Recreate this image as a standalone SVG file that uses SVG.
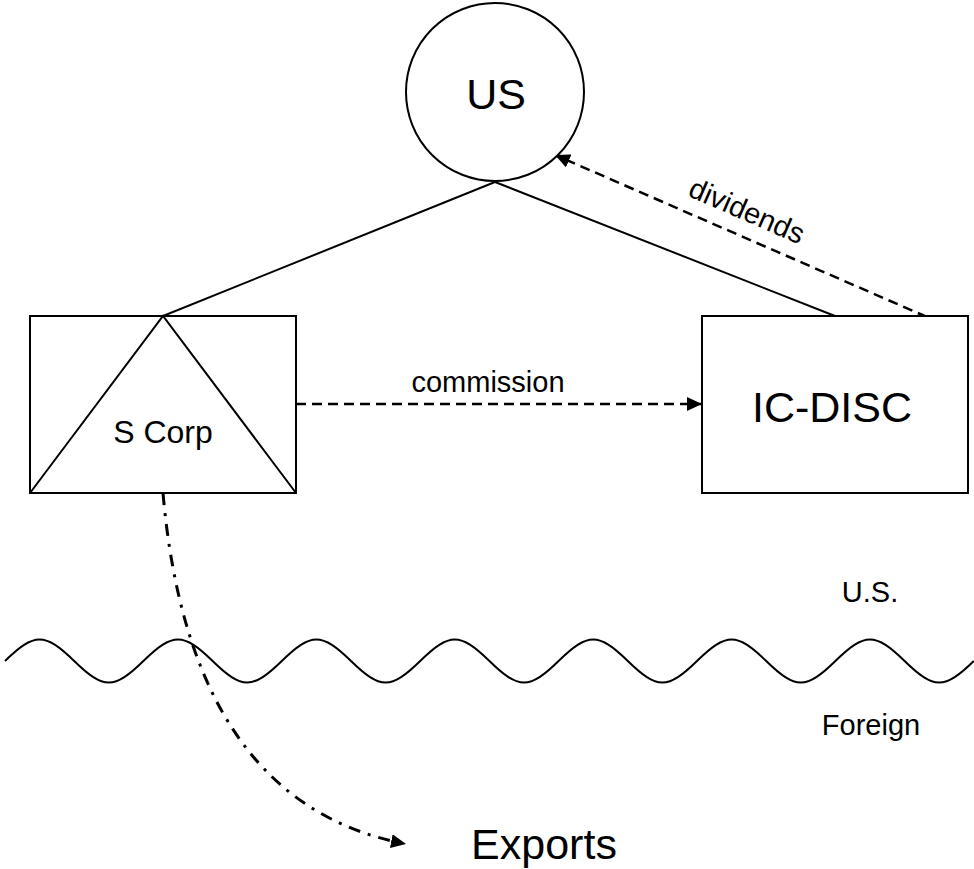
<svg xmlns="http://www.w3.org/2000/svg" width="974" height="869" viewBox="0 0 974 869">
  <style>
    .shape { fill: #ffffff; stroke: #000000; stroke-width: 2; }
    .line { fill: none; stroke: #000000; stroke-width: 2; }
    .dashed { fill: none; stroke: #000000; stroke-width: 2.5; stroke-dasharray: 10 6; }
    .dashdot { fill: none; stroke: #000000; stroke-width: 3; stroke-dasharray: 12 8 3 8; }
    .label { font-family: "Liberation Sans", Arial, sans-serif; fill: #000000; text-anchor: middle; }
    .big { font-size: 43px; }
    .mid { font-size: 32px; }
    .small { font-size: 29px; }
  </style>
  <defs>
    <marker id="arrow" markerUnits="userSpaceOnUse" markerWidth="16" markerHeight="14" refX="15" refY="7" orient="auto">
      <path d="M0,0 L15,7 L0,14 Z" fill="#000000"/>
    </marker>
  </defs>

  <!-- boundary between the U.S. and foreign territory -->
  <path id="border" class="line" d="M5,661 c29.4,-28.67 39.8,-28.67 69.2,0 s39.8,28.67 69.2,0 s39.8,-28.67 69.2,0 s39.8,28.67 69.2,0 s39.8,-28.67 69.2,0 s39.8,28.67 69.2,0 s39.8,-28.67 69.2,0 s39.8,28.67 69.2,0 s39.8,-28.67 69.2,0 s39.8,28.67 69.2,0 s39.8,-28.67 69.2,0 s39.8,28.67 69.2,0 s39.8,-28.67 69.2,0 s39.8,28.67 69.2,0"/>
  <text class="label small" x="870" y="602">U.S.</text>
  <text class="label small" x="871" y="735">Foreign</text>

  <!-- connectors -->
  <g id="connectors">
    <line class="line" x1="495" y1="182" x2="163" y2="316"/>
    <line class="line" x1="495" y1="182" x2="835" y2="316"/>
    <line class="dashed" x1="296" y1="404" x2="702" y2="404" marker-end="url(#arrow)"/>
    <line class="dashed" x1="927" y1="317" x2="555" y2="155" marker-end="url(#arrow)"/>
    <path class="dashdot" d="M163,493 Q190,803 406,844" marker-end="url(#arrow)"/>
    <text class="label small" x="488" y="392">commission</text>
    <text class="label small" transform="translate(743,220) rotate(23.5)">dividends</text>
  </g>

  <!-- shareholder -->
  <g id="us">
    <circle class="shape" cx="495" cy="92" r="89"/>
    <text class="label big" x="496" y="109">US</text>
  </g>

  <!-- S corporation -->
  <g id="s-corp">
    <rect class="shape" x="30" y="316" width="266" height="177"/>
    <path class="line" d="M30,493 L163,316 L296,493"/>
    <text class="label mid" x="163" y="443">S Corp</text>
  </g>

  <!-- interest charge DISC -->
  <g id="ic-disc">
    <rect class="shape" x="702" y="316" width="266" height="177"/>
    <text class="label big" x="832" y="422">IC-DISC</text>
  </g>

  <!-- export sales -->
  <g id="exports">
    <text class="label big" x="544" y="859">Exports</text>
  </g>
</svg>
